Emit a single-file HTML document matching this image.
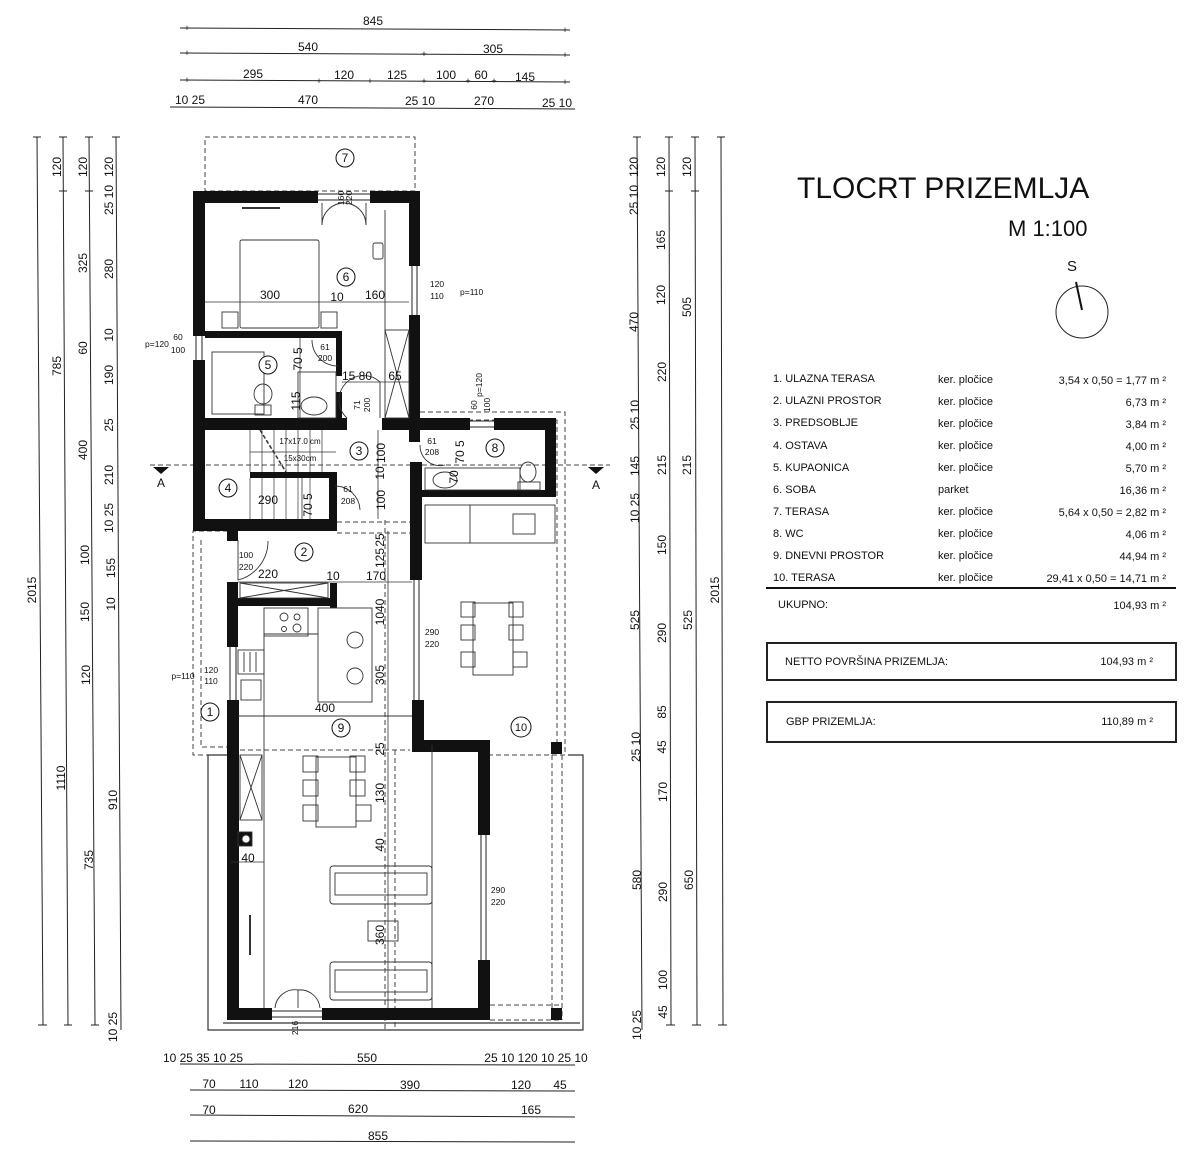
<!DOCTYPE html>
<html><head><meta charset="utf-8"><style>
html,body{margin:0;padding:0;background:#fff}
svg{display:block}
text{font-family:"Liberation Sans",Arial,sans-serif;fill:#111}
</style></head><body>
<svg width="1200" height="1162" viewBox="0 0 1200 1162" xmlns="http://www.w3.org/2000/svg">
<rect width="1200" height="1162" fill="#fff"/>

<!-- ===== DIMENSION LINES TOP ===== -->
<g stroke="#222" stroke-width="1" fill="none">
<line x1="180" y1="28" x2="570" y2="30"/>
<line x1="180" y1="53" x2="570" y2="55"/>
<line x1="180" y1="80" x2="570" y2="82"/>
<line x1="170" y1="107" x2="575" y2="109"/>
</g>
<g font-size="12" text-anchor="middle">
<text x="373" y="25">845</text>
<text x="308" y="51">540</text>
<text x="493" y="53">305</text>
<text x="253" y="78">295</text>
<text x="344" y="79">120</text>
<text x="397" y="79">125</text>
<text x="446" y="79">100</text>
<text x="481" y="79">60</text>
<text x="525" y="81">145</text>
<text x="190" y="104">10 25</text>
<text x="308" y="104">470</text>
<text x="420" y="105">25 10</text>
<text x="484" y="105">270</text>
<text x="557" y="107">25 10</text>
</g>
<g font-size="9" text-anchor="middle"><text x="187" y="31">+</text><text x="565" y="33">+</text><text x="187" y="56">+</text><text x="424" y="57">+</text><text x="565" y="58">+</text><text x="187" y="83">+</text><text x="319" y="84">+</text><text x="370" y="84">+</text><text x="424" y="84">+</text><text x="468" y="84">+</text><text x="494" y="84">+</text><text x="565" y="85">+</text></g>

<!-- ===== VERTICAL DIMENSION LINES ===== -->
<g stroke="#222" stroke-width="1">
<line x1="37" y1="137" x2="43" y2="1025"/>
<line x1="63" y1="137" x2="68" y2="1025"/>
<line x1="89" y1="137" x2="95" y2="1025"/>
<line x1="116" y1="137" x2="121" y2="1030"/>
<line x1="637" y1="137" x2="642" y2="1030"/>
<line x1="669" y1="137" x2="671" y2="1025"/>
<line x1="695" y1="137" x2="697" y2="1025"/>
<line x1="721" y1="137" x2="723" y2="1025"/>
<!-- ticks -->
<line x1="33" y1="137" x2="41" y2="137"/><line x1="59" y1="137" x2="67" y2="137"/><line x1="85" y1="137" x2="93" y2="137"/><line x1="112" y1="137" x2="120" y2="137"/>
<line x1="59" y1="191" x2="67" y2="191"/><line x1="85" y1="191" x2="93" y2="191"/>
<line x1="38" y1="1025" x2="47" y2="1025"/><line x1="64" y1="1025" x2="72" y2="1025"/><line x1="91" y1="1025" x2="99" y2="1025"/>
<line x1="633" y1="137" x2="641" y2="137"/><line x1="665" y1="137" x2="673" y2="137"/><line x1="691" y1="137" x2="699" y2="137"/><line x1="717" y1="137" x2="725" y2="137"/>
<line x1="665" y1="191" x2="673" y2="191"/><line x1="691" y1="191" x2="699" y2="191"/>
<line x1="666" y1="1025" x2="675" y2="1025"/><line x1="692" y1="1025" x2="701" y2="1025"/><line x1="718" y1="1025" x2="727" y2="1025"/>
</g>
<g font-size="12" text-anchor="middle">
<text transform="translate(36,590) rotate(-90)">2015</text>
<text transform="translate(61,167) rotate(-90)">120</text>
<text transform="translate(61,366) rotate(-90)">785</text>
<text transform="translate(65,778) rotate(-90)">1110</text>
<text transform="translate(87,167) rotate(-90)">120</text>
<text transform="translate(87,263) rotate(-90)">325</text>
<text transform="translate(87,348) rotate(-90)">60</text>
<text transform="translate(87,450) rotate(-90)">400</text>
<text transform="translate(89,555) rotate(-90)">100</text>
<text transform="translate(89,612) rotate(-90)">150</text>
<text transform="translate(90,675) rotate(-90)">120</text>
<text transform="translate(93,860) rotate(-90)">735</text>
<text transform="translate(113,167) rotate(-90)">120</text>
<text transform="translate(113,200) rotate(-90)">25 10</text>
<text transform="translate(113,269) rotate(-90)">280</text>
<text transform="translate(113,335) rotate(-90)">10</text>
<text transform="translate(113,375) rotate(-90)">190</text>
<text transform="translate(113,425) rotate(-90)">25</text>
<text transform="translate(113,475) rotate(-90)">210</text>
<text transform="translate(113,518) rotate(-90)">10 25</text>
<text transform="translate(115,568) rotate(-90)">155</text>
<text transform="translate(115,604) rotate(-90)">10</text>
<text transform="translate(117,800) rotate(-90)">910</text>
<text transform="translate(117,1027) rotate(-90)">10 25</text>

<text transform="translate(638,167) rotate(-90)">120</text>
<text transform="translate(638,200) rotate(-90)">25 10</text>
<text transform="translate(638,322) rotate(-90)">470</text>
<text transform="translate(639,415) rotate(-90)">25 10</text>
<text transform="translate(639,466) rotate(-90)">145</text>
<text transform="translate(639,508) rotate(-90)">10 25</text>
<text transform="translate(639,620) rotate(-90)">525</text>
<text transform="translate(640,747) rotate(-90)">25 10</text>
<text transform="translate(641,880) rotate(-90)">580</text>
<text transform="translate(641,1025) rotate(-90)">10 25</text>
<text transform="translate(665,167) rotate(-90)">120</text>
<text transform="translate(665,240) rotate(-90)">165</text>
<text transform="translate(665,295) rotate(-90)">120</text>
<text transform="translate(666,372) rotate(-90)">220</text>
<text transform="translate(666,465) rotate(-90)">215</text>
<text transform="translate(666,545) rotate(-90)">150</text>
<text transform="translate(666,633) rotate(-90)">290</text>
<text transform="translate(666,712) rotate(-90)">85</text>
<text transform="translate(666,747) rotate(-90)">45</text>
<text transform="translate(667,792) rotate(-90)">170</text>
<text transform="translate(667,892) rotate(-90)">290</text>
<text transform="translate(667,980) rotate(-90)">100</text>
<text transform="translate(667,1012) rotate(-90)">45</text>
<text transform="translate(691,167) rotate(-90)">120</text>
<text transform="translate(691,307) rotate(-90)">505</text>
<text transform="translate(691,465) rotate(-90)">215</text>
<text transform="translate(692,620) rotate(-90)">525</text>
<text transform="translate(693,880) rotate(-90)">650</text>
<text transform="translate(719,590) rotate(-90)">2015</text>
</g>

<!-- ===== BOTTOM DIMENSION LINES ===== -->
<g stroke="#222" stroke-width="1">
<line x1="180" y1="1064" x2="575" y2="1065"/>
<line x1="190" y1="1090" x2="575" y2="1091"/>
<line x1="190" y1="1115" x2="575" y2="1117"/>
<line x1="190" y1="1141" x2="575" y2="1142"/>
</g>
<g font-size="12" text-anchor="middle">
<text x="203" y="1062">10 25 35 10 25</text>
<text x="367" y="1062">550</text>
<text x="536" y="1062">25 10  120  10 25 10</text>
<text x="209" y="1088">70</text>
<text x="249" y="1088">110</text>
<text x="298" y="1088">120</text>
<text x="410" y="1089">390</text>
<text x="521" y="1089">120</text>
<text x="560" y="1089">45</text>
<text x="209" y="1114">70</text>
<text x="358" y="1113">620</text>
<text x="531" y="1114">165</text>
<text x="378" y="1140">855</text>
</g>

<!-- ===== DASHED TERRACES ===== -->
<g fill="none" stroke="#444" stroke-width="1" stroke-dasharray="5,3">
<rect x="205" y="137" width="210" height="54"/>
<polyline points="228,531 193,531 193,755 228,755"/>
<polyline points="201,540 201,747 228,747"/>
<polyline points="420,412 565,412 565,755 490,755"/>
<polyline points="428,420 557,420 557,748"/>
<line x1="150" y1="465" x2="610" y2="465"/>
<line x1="240" y1="750" x2="410" y2="750"/>
<line x1="385" y1="520" x2="385" y2="1030"/>
<line x1="395" y1="750" x2="395" y2="1030"/>
<line x1="552" y1="755" x2="552" y2="1020"/>
<line x1="562" y1="755" x2="562" y2="1020"/>
<line x1="490" y1="1005" x2="560" y2="1005"/>
<line x1="490" y1="1020" x2="560" y2="1020"/>
<line x1="337" y1="522" x2="412" y2="522"/>
<line x1="337" y1="533" x2="412" y2="533"/>
</g>
<g fill="none" stroke="#333" stroke-width="1.2">
<polyline points="228,755 208,755 208,1030 583,1030 583,755 568,755"/>
<line x1="223" y1="1023" x2="580" y2="1023"/>
</g>

<!-- section markers -->
<polygon points="153,467 169,467 161,474" fill="#111"/>
<text x="161" y="487" font-size="12" text-anchor="middle">A</text>
<polygon points="588,467 604,467 596,474" fill="#111"/>
<text x="596" y="489" font-size="12" text-anchor="middle">A</text>

<!-- ===== WALLS ===== -->
<g fill="#111">
<rect x="193" y="191" width="125" height="12"/>
<rect x="370" y="191" width="50" height="12"/>
<rect x="409" y="191" width="11" height="75"/>
<rect x="409" y="315" width="11" height="115"/>
<rect x="193" y="191" width="12" height="145"/>
<rect x="193" y="360" width="12" height="171"/>
<rect x="205" y="331" width="135" height="7"/>
<rect x="336" y="331" width="6" height="45"/>
<rect x="336" y="392" width="6" height="38"/>
<rect x="193" y="418" width="154" height="12"/>
<rect x="382" y="418" width="88" height="12"/>
<rect x="494" y="418" width="62" height="12"/>
<rect x="545" y="418" width="11" height="79"/>
<rect x="420" y="490" width="136" height="7"/>
<rect x="409" y="430" width="11" height="12"/>
<rect x="410" y="462" width="12" height="118"/>
<rect x="250" y="472" width="87" height="6"/>
<rect x="329" y="472" width="8" height="59"/>
<rect x="193" y="519" width="144" height="12"/>
<rect x="227" y="531" width="11" height="10"/>
<rect x="227" y="582" width="11" height="65"/>
<rect x="238" y="598" width="99" height="8"/>
<rect x="330" y="583" width="7" height="25"/>
<rect x="227" y="700" width="12" height="320"/>
<rect x="412" y="700" width="12" height="52"/>
<rect x="412" y="740" width="78" height="12"/>
<rect x="478" y="740" width="12" height="95"/>
<rect x="478" y="960" width="12" height="60"/>
<rect x="227" y="1008" width="45" height="12"/>
<rect x="322" y="1008" width="168" height="12"/>
<rect x="551" y="742" width="11" height="12"/>
<rect x="551" y="1008" width="11" height="12"/>
</g>
<g stroke="#222" stroke-width="1" fill="none">
<line x1="412" y1="266" x2="412" y2="315"/><line x1="417" y1="266" x2="417" y2="315"/>
<line x1="196" y1="336" x2="196" y2="360"/><line x1="202" y1="336" x2="202" y2="360"/>
<line x1="470" y1="421" x2="494" y2="421"/><line x1="470" y1="427" x2="494" y2="427"/>
<line x1="230" y1="647" x2="230" y2="700"/><line x1="236" y1="647" x2="236" y2="700"/>
<line x1="414" y1="580" x2="414" y2="700"/><line x1="419" y1="580" x2="419" y2="700"/>
<line x1="481" y1="835" x2="481" y2="960"/><line x1="486" y1="835" x2="486" y2="960"/>
<line x1="272" y1="1011" x2="322" y2="1011"/><line x1="272" y1="1017" x2="322" y2="1017"/>
<line x1="318" y1="194" x2="370" y2="194"/><line x1="318" y1="200" x2="370" y2="200"/>
</g>

<!-- ===== DOORS ===== -->
<g stroke="#333" stroke-width="0.9" fill="none">
<path d="M322,203 L322,225 A22,22 0 0 1 344,203"/>
<path d="M366,203 L366,225 A22,22 0 0 0 344,203"/>
<path d="M312,340 A26,26 0 0 0 338,366"/>
<path d="M347,418 A20,20 0 0 1 380,382 L380,418"/>
<path d="M238,540 L238,580 A40,40 0 0 0 268,541"/>
<path d="M420,445 A20,20 0 0 0 445,465"/>
<path d="M335,486 A25,25 0 0 1 360,510"/>
<path d="M275,1008 A20,20 0 0 1 298,990 L298,1008"/>
<path d="M320,1008 A20,20 0 0 0 298,990"/>
<rect x="385" y="330" width="24" height="88"/>
<line x1="385" y1="330" x2="409" y2="418"/><line x1="409" y1="330" x2="385" y2="418"/>
<rect x="240" y="583" width="88" height="15"/>
<line x1="240" y1="583" x2="328" y2="598"/><line x1="328" y1="583" x2="240" y2="598"/>
<rect x="240" y="755" width="22" height="65"/>
<line x1="240" y1="755" x2="262" y2="820"/><line x1="262" y1="755" x2="240" y2="820"/>
</g>

<!-- ===== FURNITURE ===== -->
<g stroke="#333" stroke-width="0.9" fill="none">
<rect x="240" y="240" width="79" height="88" rx="2"/>
<rect x="222" y="312" width="16" height="16"/><rect x="321" y="312" width="16" height="16"/>
<line x1="242" y1="208" x2="280" y2="208" stroke-width="2"/>
<rect x="373" y="243" width="10" height="16" rx="2"/>
<line x1="385" y1="210" x2="385" y2="330"/>
<rect x="212" y="352" width="52" height="62"/>
<ellipse cx="263" cy="394" rx="9" ry="10"/><rect x="255" y="405" width="16" height="10"/>
<rect x="298" y="372" width="38" height="46"/>
<ellipse cx="314" cy="406" rx="13" ry="9"/>
<g stroke-width="0.7">
<line x1="250" y1="430" x2="250" y2="472"/><line x1="262" y1="430" x2="262" y2="472"/>
<line x1="274" y1="430" x2="274" y2="472"/><line x1="286" y1="430" x2="286" y2="472"/>
<line x1="298" y1="430" x2="298" y2="472"/><line x1="310" y1="430" x2="310" y2="472"/>
<line x1="322" y1="430" x2="322" y2="472"/>
<line x1="250" y1="478" x2="250" y2="519"/><line x1="262" y1="478" x2="262" y2="519"/>
<line x1="274" y1="478" x2="274" y2="519"/><line x1="286" y1="478" x2="286" y2="519"/>
<line x1="298" y1="478" x2="298" y2="519"/><line x1="310" y1="478" x2="310" y2="519"/>
<line x1="250" y1="452" x2="336" y2="452"/>
<line x1="260" y1="430" x2="286" y2="472" stroke-dasharray="4,2" stroke-width="1.5"/>
</g>
<rect x="425" y="468" width="95" height="22"/>
<ellipse cx="445" cy="480" rx="12" ry="8"/>
<ellipse cx="528" cy="472" rx="8" ry="10"/><rect x="518" y="482" width="22" height="8"/>
<rect x="264" y="608" width="44" height="28"/>
<circle cx="284" cy="617" r="4"/><circle cx="297" cy="617" r="3"/><circle cx="284" cy="629" r="2.5"/><circle cx="297" cy="628" r="4"/>
<polyline points="264,636 264,634 318,634"/>
<rect x="318" y="608" width="54" height="94"/>
<circle cx="355" cy="640" r="8"/><circle cx="355" cy="676" r="8"/>
<line x1="264" y1="636" x2="264" y2="1008"/>
<rect x="238" y="650" width="26" height="24"/>
<line x1="244" y1="652" x2="244" y2="672"/><line x1="250" y1="652" x2="250" y2="672"/><line x1="256" y1="652" x2="256" y2="672"/>
<rect x="241" y="680" width="20" height="20"/>
<line x1="238" y1="716" x2="412" y2="716"/>
<rect x="425" y="505" width="130" height="38"/>
<line x1="470" y1="505" x2="470" y2="543"/>
<rect x="513" y="514" width="22" height="20"/>
<rect x="473" y="603" width="40" height="72"/>
<rect x="461" y="602" width="14" height="15"/><rect x="461" y="625" width="14" height="15"/><rect x="461" y="652" width="14" height="15"/>
<rect x="509" y="602" width="14" height="15"/><rect x="509" y="625" width="14" height="15"/><rect x="513" y="652" width="14" height="15"/>
<rect x="316" y="757" width="40" height="70"/>
<rect x="303" y="756" width="15" height="16"/><rect x="303" y="780" width="15" height="16"/><rect x="303" y="805" width="15" height="16"/>
<rect x="350" y="756" width="15" height="16"/><rect x="350" y="780" width="15" height="16"/><rect x="356" y="805" width="15" height="16"/>
<rect x="238" y="832" width="14" height="14" fill="#111"/>
<circle cx="246" cy="839" r="4" fill="#fff"/>
<rect x="330" y="866" width="102" height="38" rx="3"/>
<rect x="335" y="873" width="92" height="22"/>
<rect x="330" y="962" width="102" height="38" rx="3"/>
<rect x="335" y="970" width="92" height="22"/>
<rect x="368" y="921" width="30" height="20"/>
<line x1="250" y1="915" x2="250" y2="955" stroke-width="2"/>
<line x1="432" y1="745" x2="432" y2="1008"/>
</g>

<!-- ===== ROOM NUMBERS ===== -->
<g stroke="#111" stroke-width="1" fill="#fff">
<circle cx="345" cy="158" r="9"/><circle cx="346" cy="277" r="9"/><circle cx="268" cy="365" r="9"/>
<circle cx="359" cy="451" r="9"/><circle cx="495" cy="448" r="9"/><circle cx="228" cy="488" r="9"/>
<circle cx="304" cy="552" r="9"/><circle cx="210" cy="712" r="9"/><circle cx="341" cy="728" r="9"/>
<circle cx="521" cy="727" r="10"/>
</g>
<g font-size="12" text-anchor="middle">
<text x="345" y="162">7</text><text x="346" y="281">6</text><text x="268" y="369">5</text>
<text x="359" y="455">3</text><text x="495" y="452">8</text><text x="228" y="492">4</text>
<text x="304" y="556">2</text><text x="210" y="716">1</text><text x="341" y="732">9</text>
<text x="521" y="731" font-size="11">10</text>
</g>

<!-- ===== INTERIOR DIMENSIONS ===== -->
<g stroke="#333" stroke-width="0.8">
<line x1="205" y1="302" x2="409" y2="302"/>
<line x1="342" y1="382" x2="409" y2="382"/>
<line x1="238" y1="582" x2="412" y2="582"/>
<line x1="378" y1="430" x2="378" y2="519"/>
<line x1="388" y1="531" x2="388" y2="750"/>
<line x1="388" y1="752" x2="388" y2="1008"/>
<line x1="300" y1="338" x2="300" y2="418"/>
<line x1="302" y1="478" x2="302" y2="519"/>
<line x1="231" y1="862" x2="264" y2="862"/>
</g>
<g font-size="12" text-anchor="middle">
<text x="270" y="299">300</text><text x="337" y="301">10</text><text x="375" y="299">160</text>
<text x="357" y="380">15 80</text><text x="395" y="380">65</text>
<text x="268" y="578">220</text><text x="333" y="580">10</text><text x="376" y="580">170</text>
<text x="325" y="712">400</text>
<text x="268" y="504">290</text>
<text x="248" y="862">40</text>
<text transform="translate(385,453) rotate(-90)">100</text>
<text transform="translate(385,500) rotate(-90)">100</text>
<text transform="translate(384,473) rotate(-90)">10</text>
<text transform="translate(384,540) rotate(-90)">25</text>
<text transform="translate(384,558) rotate(-90)">125</text>
<text transform="translate(384,612) rotate(-90)">1040</text>
<text transform="translate(384,675) rotate(-90)">305</text>
<text transform="translate(384,749) rotate(-90)">25</text>
<text transform="translate(384,793) rotate(-90)">130</text>
<text transform="translate(384,845) rotate(-90)">40</text>
<text transform="translate(384,935) rotate(-90)">360</text>
<text transform="translate(302,359) rotate(-90)">70 5</text>
<text transform="translate(300,401) rotate(-90)">115</text>
<text transform="translate(312,505) rotate(-90)">70 5</text>
<text transform="translate(464,452) rotate(-90)">70 5</text>
<text transform="translate(458,477) rotate(-90)">70</text>
</g>
<g font-size="8.5" text-anchor="middle">
<text transform="translate(344,198) rotate(-90)">160</text>
<text transform="translate(352,198) rotate(-90)">220</text>
<text x="437" y="287">120</text><text x="437" y="299">110</text><text x="460" y="295" text-anchor="start">p=110</text>
<text x="178" y="340">60</text><text x="178" y="353">100</text><text x="145" y="347" text-anchor="start">p=120</text>
<text x="325" y="350">61</text><text x="325" y="361">200</text>
<text transform="translate(360,405) rotate(-90)">71</text><text transform="translate(370,405) rotate(-90)">200</text>
<text x="432" y="444">61</text><text x="432" y="455">208</text>
<text x="348" y="492">61</text><text x="348" y="504">208</text>
<text transform="translate(482,385) rotate(-90)">p=120</text>
<text transform="translate(477,405) rotate(-90)">60</text><text transform="translate(490,405) rotate(-90)">100</text>
<text x="300" y="444" font-size="8">17x17.0 cm</text><text x="300" y="461" font-size="8">15x30cm</text>
<text x="246" y="558">100</text><text x="246" y="570">220</text>
<text x="211" y="673">120</text><text x="211" y="684">110</text><text x="183" y="679">p=110</text>
<text x="432" y="635">290</text><text x="432" y="647">220</text>
<text x="498" y="893">290</text><text x="498" y="905">220</text>
<text transform="translate(298,1028) rotate(-90)">216</text>
</g>

<!-- ===== TITLE ===== -->
<text x="797" y="198" font-size="30">TLOCRT PRIZEMLJA</text>
<text x="1008" y="236" font-size="22">M 1:100</text>
<text x="1072" y="271" font-size="15" text-anchor="middle">S</text>
<circle cx="1082" cy="312" r="26" fill="none" stroke="#222" stroke-width="1"/>
<line x1="1076" y1="282" x2="1082" y2="310" stroke="#111" stroke-width="2"/>

<!-- ===== LEGEND ===== -->
<g font-size="11">
<text x="773" y="382">1. ULAZNA TERASA</text><text x="938" y="383">ker. pločice</text><text x="1166" y="384" text-anchor="end">3,54 x 0,50 = 1,77 m ²</text>
<text x="773" y="404">2. ULAZNI PROSTOR</text><text x="938" y="405">ker. pločice</text><text x="1166" y="406" text-anchor="end">6,73 m ²</text>
<text x="773" y="426">3. PREDSOBLJE</text><text x="938" y="427">ker. pločice</text><text x="1166" y="428" text-anchor="end">3,84 m ²</text>
<text x="773" y="449">4. OSTAVA</text><text x="938" y="449">ker. pločice</text><text x="1166" y="450" text-anchor="end">4,00 m ²</text>
<text x="773" y="471">5. KUPAONICA</text><text x="938" y="471">ker. pločice</text><text x="1166" y="472" text-anchor="end">5,70 m ²</text>
<text x="773" y="493">6. SOBA</text><text x="938" y="493">parket</text><text x="1166" y="494" text-anchor="end">16,36 m ²</text>
<text x="773" y="515">7. TERASA</text><text x="938" y="515">ker. pločice</text><text x="1166" y="516" text-anchor="end">5,64 x 0,50 = 2,82 m ²</text>
<text x="773" y="537">8. WC</text><text x="938" y="537">ker. pločice</text><text x="1166" y="538" text-anchor="end">4,06 m ²</text>
<text x="773" y="559">9. DNEVNI PROSTOR</text><text x="938" y="559">ker. pločice</text><text x="1166" y="560" text-anchor="end">44,94 m ²</text>
<text x="773" y="581">10. TERASA</text><text x="938" y="581">ker. pločice</text><text x="1166" y="582" text-anchor="end">29,41 x 0,50 = 14,71 m ²</text>
<text x="778" y="608">UKUPNO:</text><text x="1166" y="609" text-anchor="end">104,93 m ²</text>
</g>
<line x1="766" y1="588" x2="1176" y2="588" stroke="#111" stroke-width="2"/>
<rect x="767" y="643" width="409" height="37" fill="none" stroke="#222" stroke-width="2"/>
<rect x="767" y="702" width="409" height="40" fill="none" stroke="#222" stroke-width="2"/>
<g font-size="11">
<text x="785" y="665">NETTO POVRŠINA PRIZEMLJA:</text><text x="1153" y="665" text-anchor="end">104,93 m ²</text>
<text x="786" y="725">GBP PRIZEMLJA:</text><text x="1153" y="725" text-anchor="end">110,89 m ²</text>
</g>
</svg>
</body></html>
